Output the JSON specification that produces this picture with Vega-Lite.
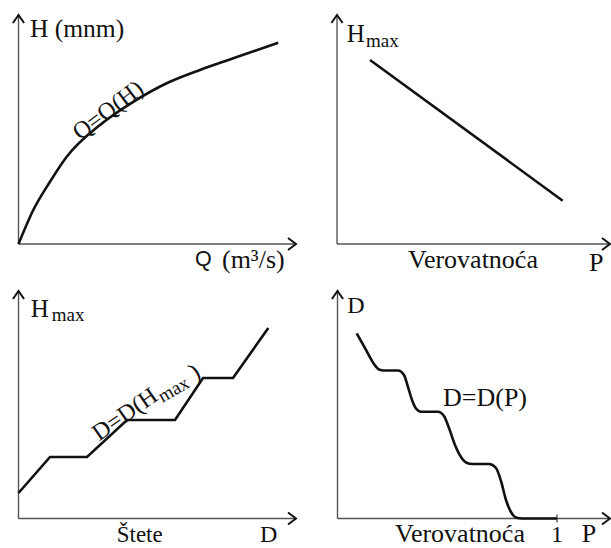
{
  "$schema": "https://vega.github.io/schema/vega-lite/v6.json",
  "padding": 0,
  "background": "white",
  "config": {"view": {"stroke": null}, "concat": {"spacing": 0}},
  "datasets": {
    "axes": [{"x": 0, "y": 0, "x2": 10, "y2": 0}, {"x": 0, "y": 0, "x2": 0, "y2": 10}],
    "axes4": [{"x": 0, "y": 0, "x2": 10, "y2": 0}, {"x": 0, "y": 0, "x2": 0, "y2": 10}, {"x": 8.055, "y": -0.18, "x2": 8.055, "y2": 0.18}],
    "arrows": [{"x": 10, "y": 0, "dir": "r"}, {"x": 0, "y": 10, "dir": "u"}]
  },
  "spacing": 0,
  "bounds": "flush",
  "columns": 2,
  "concat": [
    {
      "width": 305,
      "height": 274,
      "encoding": {
        "x": {"field": "x", "type": "quantitative", "scale": {"domain": [-0.6667, 10.3243], "nice": false, "zero": false}, "axis": null},
        "y": {"field": "y", "type": "quantitative", "scale": {"domain": [-1.31, 10.655], "nice": false, "zero": false}, "axis": null}
      },
      "layer": [
        {"data": {"name": "axes"}, "mark": {"type": "rule", "color": "#555", "strokeWidth": 1.4}, "encoding": {"x2": {"field": "x2"}, "y2": {"field": "y2"}}},
        {"data": {"name": "arrows"}, "mark": {"type": "point", "filled": false, "color": "#111", "strokeWidth": 2, "size": 256, "opacity": 1}, "encoding": {"shape": {"field": "dir", "type": "nominal", "scale": {"domain": ["r", "u"], "range": ["M-1,-0.75L0,0L-1,0.75", "M-0.7,1L0,0L0.7,1"]}, "legend": null}}},
        {"data": {"values": [
          {"x": 0, "y": 0}, {"x": 0.533, "y": 1.485}, {"x": 1.135, "y": 2.72}, {"x": 1.737, "y": 3.81}, {"x": 2.937, "y": 5.2}, {"x": 4.137, "y": 6.21}, {"x": 5.34, "y": 7.02}, {"x": 6.54, "y": 7.6}, {"x": 7.74, "y": 8.11}, {"x": 9.36, "y": 8.79}
        ]}, "mark": {"type": "line", "color": "#111", "strokeWidth": 2.6, "interpolate": "monotone"}},
        {"data": {"values": [{"x": 0.414, "y": 9.052, "t": "H (mnm)"}]}, "mark": {"type": "text", "font": "Liberation Serif", "fontSize": 25.5, "align": "left", "baseline": "alphabetic", "color": "#111"}, "encoding": {"text": {"field": "t"}}},
        {"data": {"values": [{"x": 6.36, "y": -0.96, "t": "Q"}]}, "mark": {"type": "text", "font": "Liberation Sans", "fontSize": 21.5, "align": "left", "baseline": "alphabetic", "color": "#111"}, "encoding": {"text": {"field": "t"}}},
        {"data": {"values": [{"x": 7.333, "y": -1.048, "t": "(m³/s)"}]}, "mark": {"type": "text", "font": "Liberation Serif", "fontSize": 26, "align": "left", "baseline": "alphabetic", "color": "#111"}, "encoding": {"text": {"field": "t"}}},
        {"data": {"values": [{"x": 3.236, "y": 5.821, "t": "Q=Q(H)"}]}, "mark": {"type": "text", "font": "Liberation Serif", "fontSize": 24, "align": "center", "baseline": "middle", "angle": -37, "color": "#111"}, "encoding": {"text": {"field": "t"}}}
      ]
    },
    {
      "width": 306,
      "height": 274,
      "encoding": {
        "x": {"field": "x", "type": "quantitative", "scale": {"domain": [-1.1722, 10.0366], "nice": false, "zero": false}, "axis": null},
        "y": {"field": "y", "type": "quantitative", "scale": {"domain": [-1.31, 10.655], "nice": false, "zero": false}, "axis": null}
      },
      "layer": [
        {"data": {"name": "axes"}, "mark": {"type": "rule", "color": "#555", "strokeWidth": 1.4}, "encoding": {"x2": {"field": "x2"}, "y2": {"field": "y2"}}},
        {"data": {"name": "arrows"}, "mark": {"type": "point", "filled": false, "color": "#111", "strokeWidth": 2, "size": 256, "opacity": 1}, "encoding": {"shape": {"field": "dir", "type": "nominal", "scale": {"domain": ["r", "u"], "range": ["M-1,-0.75L0,0L-1,0.75", "M-0.7,1L0,0L0.7,1"]}, "legend": null}}},
        {"data": {"values": [{"x": 1.209, "y": 8.035}, {"x": 8.267, "y": 1.891}]}, "mark": {"type": "line", "color": "#111", "strokeWidth": 2.6}},
        {"data": {"values": [{"x": 0.355, "y": 8.821, "t": "H"}]}, "mark": {"type": "text", "font": "Liberation Serif", "fontSize": 25, "align": "left", "baseline": "alphabetic", "color": "#111"}, "encoding": {"text": {"field": "t"}}},
        {"data": {"values": [{"x": 1.062, "y": 8.616, "t": "max"}]}, "mark": {"type": "text", "font": "Liberation Serif", "fontSize": 19, "align": "left", "baseline": "alphabetic", "color": "#111"}, "encoding": {"text": {"field": "t"}}},
        {"data": {"values": [{"x": 2.601, "y": -1.035, "t": "Verovatnoća"}, {"x": 9.231, "y": -1.2, "t": "P"}]}, "mark": {"type": "text", "font": "Liberation Serif", "fontSize": 26, "align": "left", "baseline": "alphabetic", "color": "#111"}, "encoding": {"text": {"field": "t"}}}
      ]
    },
    {
      "width": 305,
      "height": 274,
      "encoding": {
        "x": {"field": "x", "type": "quantitative", "scale": {"domain": [-0.6667, 10.3243], "nice": false, "zero": false}, "axis": null},
        "y": {"field": "y", "type": "quantitative", "scale": {"domain": [-1.2967, 10.7473], "nice": false, "zero": false}, "axis": null}
      },
      "layer": [
        {"data": {"name": "axes"}, "mark": {"type": "rule", "color": "#555", "strokeWidth": 1.4}, "encoding": {"x2": {"field": "x2"}, "y2": {"field": "y2"}}},
        {"data": {"name": "arrows"}, "mark": {"type": "point", "filled": false, "color": "#111", "strokeWidth": 2, "size": 256, "opacity": 1}, "encoding": {"shape": {"field": "dir", "type": "nominal", "scale": {"domain": ["r", "u"], "range": ["M-1,-0.75L0,0L-1,0.75", "M-0.7,1L0,0L0.7,1"]}, "legend": null}}},
        {"data": {"values": [
          {"x": 0, "y": 1.121}, {"x": 1.135, "y": 2.703}, {"x": 2.468, "y": 2.703}, {"x": 3.91, "y": 4.33}, {"x": 5.64, "y": 4.33}, {"x": 6.649, "y": 6.176}, {"x": 7.73, "y": 6.176}, {"x": 9.002, "y": 8.374}
        ]}, "mark": {"type": "line", "color": "#111", "strokeWidth": 2.6}},
        {"data": {"values": [{"x": 0.44, "y": 8.87, "t": "H"}]}, "mark": {"type": "text", "font": "Liberation Serif", "fontSize": 25, "align": "left", "baseline": "alphabetic", "color": "#111"}, "encoding": {"text": {"field": "t"}}},
        {"data": {"values": [{"x": 1.196, "y": 8.695, "t": "max"}]}, "mark": {"type": "text", "font": "Liberation Serif", "fontSize": 19, "align": "left", "baseline": "alphabetic", "color": "#111"}, "encoding": {"text": {"field": "t"}}},
        {"data": {"values": [{"x": 3.539, "y": -1.033, "t": "Štete"}]}, "mark": {"type": "text", "font": "Liberation Serif", "fontSize": 23, "align": "left", "baseline": "alphabetic", "color": "#111"}, "encoding": {"text": {"field": "t"}}},
        {"data": {"values": [{"x": 8.703, "y": -1.033, "t": "D"}]}, "mark": {"type": "text", "font": "Liberation Serif", "fontSize": 24, "align": "left", "baseline": "alphabetic", "color": "#111"}, "encoding": {"text": {"field": "t"}}},
        {"data": {"values": [{"x": 2.901, "y": 3.385, "t": "D=D(H"}]}, "mark": {"type": "text", "font": "Liberation Serif", "fontSize": 24, "align": "left", "baseline": "alphabetic", "angle": -35, "color": "#111"}, "encoding": {"text": {"field": "t"}}},
        {"data": {"values": [{"x": 5.189, "y": 5.077, "t": "max"}]}, "mark": {"type": "text", "font": "Liberation Serif", "fontSize": 19, "align": "left", "baseline": "alphabetic", "angle": -30, "color": "#111"}, "encoding": {"text": {"field": "t"}}},
        {"data": {"values": [{"x": 6.36, "y": 6.044, "t": ")"}]}, "mark": {"type": "text", "font": "Liberation Serif", "fontSize": 25, "align": "left", "baseline": "alphabetic", "angle": -30, "color": "#111"}, "encoding": {"text": {"field": "t"}}}
      ]
    },
    {
      "width": 306,
      "height": 274,
      "encoding": {
        "x": {"field": "x", "type": "quantitative", "scale": {"domain": [-1.1927, 10.0367], "nice": false, "zero": false}, "axis": null},
        "y": {"field": "y", "type": "quantitative", "scale": {"domain": [-1.2967, 10.7473], "nice": false, "zero": false}, "axis": null}
      },
      "layer": [
        {"data": {"name": "axes4"}, "mark": {"type": "rule", "color": "#555", "strokeWidth": 1.4}, "encoding": {"x2": {"field": "x2"}, "y2": {"field": "y2"}}},
        {"data": {"name": "arrows"}, "mark": {"type": "point", "filled": false, "color": "#111", "strokeWidth": 2, "size": 256, "opacity": 1}, "encoding": {"shape": {"field": "dir", "type": "nominal", "scale": {"domain": ["r", "u"], "range": ["M-1,-0.75L0,0L-1,0.75", "M-0.7,1L0,0L0.7,1"]}, "legend": null}}},
        {"data": {"values": [
          {"x": 0.705, "y": 8.141}, {"x": 1.046, "y": 7.407}, {"x": 1.339, "y": 6.791}, {"x": 1.523, "y": 6.549}, {"x": 1.706, "y": 6.505}, {"x": 2.22, "y": 6.505}, {"x": 2.44, "y": 6.308}, {"x": 2.587, "y": 5.78}, {"x": 2.734, "y": 5.209}, {"x": 2.881, "y": 4.835}, {"x": 3.064, "y": 4.695}, {"x": 3.688, "y": 4.695}, {"x": 3.908, "y": 4.505}, {"x": 4.092, "y": 3.978}, {"x": 4.312, "y": 3.231}, {"x": 4.532, "y": 2.703}, {"x": 4.752, "y": 2.44}, {"x": 4.936, "y": 2.396}, {"x": 5.56, "y": 2.396}, {"x": 5.817, "y": 2.22}, {"x": 6.0, "y": 1.648}, {"x": 6.183, "y": 0.813}, {"x": 6.367, "y": 0.286}, {"x": 6.55, "y": 0.044}, {"x": 6.771, "y": 0}, {"x": 8.055, "y": 0}
        ]}, "mark": {"type": "line", "color": "#111", "strokeWidth": 2.6, "interpolate": "monotone"}},
        {"data": {"values": [{"x": 0.36, "y": 9.033, "t": "D"}]}, "mark": {"type": "text", "font": "Liberation Serif", "fontSize": 24, "align": "left", "baseline": "alphabetic", "color": "#111"}, "encoding": {"text": {"field": "t"}}},
        {"data": {"values": [{"x": 3.872, "y": 4.958, "t": "D=D(P)"}]}, "mark": {"type": "text", "font": "Liberation Serif", "fontSize": 26, "align": "left", "baseline": "alphabetic", "color": "#111"}, "encoding": {"text": {"field": "t"}}},
        {"data": {"values": [{"x": 2.11, "y": -1.033, "t": "Verovatnoća"}, {"x": 8.961, "y": -1.033, "t": "P"}]}, "mark": {"type": "text", "font": "Liberation Serif", "fontSize": 26, "align": "left", "baseline": "alphabetic", "color": "#111"}, "encoding": {"text": {"field": "t"}}},
        {"data": {"values": [{"x": 8.055, "y": -1.033, "t": "1"}]}, "mark": {"type": "text", "font": "Liberation Serif", "fontSize": 24, "align": "center", "baseline": "alphabetic", "color": "#111"}, "encoding": {"text": {"field": "t"}}}
      ]
    }
  ]
}
